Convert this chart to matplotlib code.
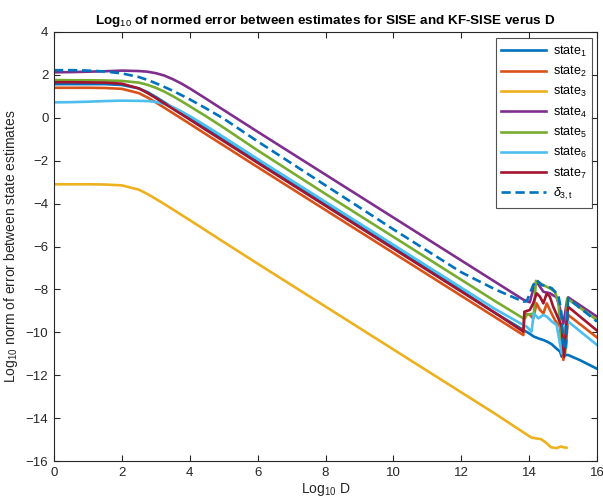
import matplotlib
matplotlib.use("Agg")
import matplotlib.pyplot as plt

plt.rcParams['font.family'] = ['Liberation Sans', 'DejaVu Sans']
plt.rcParams['mathtext.fontset'] = 'custom'
plt.rcParams['mathtext.rm'] = 'Liberation Sans'
plt.rcParams['mathtext.it'] = 'Liberation Sans:italic'

# shared grid for the smooth part of the curves
x_smooth = [0, 0.5, 1, 1.5, 2, 2.5, 2.75, 3, 3.25, 3.5, 3.75, 4, 4.5, 5, 6, 8, 10, 12, 13]

state1_y = [1.57, 1.57, 1.57, 1.57, 1.53, 1.37, 1.2, 0.97, 0.72, 0.47, 0.22, -0.03, -0.53, -1.04, -2.05, -4.05, -6.05, -8.05, -9.1]
state1_xn = [13.83, 14.0, 14.14, 14.3, 14.42, 14.55, 14.66, 14.8, 14.91, 14.96, 15.06, 15.15, 15.5, 16.0]
state1_yn = [-9.89, -10.05, -10.2, -10.3, -10.36, -10.45, -10.55, -10.75, -10.9, -11.14, -11.06, -11.06, -11.3, -11.7]

state2_y = [1.4, 1.4, 1.4, 1.39, 1.35, 1.15, 0.95, 0.72, 0.47, 0.22, -0.03, -0.28, -0.79, -1.29, -2.3, -4.3, -6.3, -8.3, -9.3]
state2_xn = [13.83, 13.86, 14.02, 14.12, 14.22, 14.32, 14.42, 14.52, 14.61, 14.76, 14.91, 15.01, 15.09, 15.15, 16.0]
state2_yn = [-10.13, -9.12, -9.19, -9.35, -8.65, -8.96, -9.12, -8.65, -8.96, -9.43, -9.74, -11.29, -10.52, -9.19, -10.24]

state3_y = [-3.1, -3.1, -3.1, -3.11, -3.15, -3.35, -3.55, -3.78, -4.02, -4.27, -4.52, -4.77, -5.28, -5.79, -6.8, -8.8, -10.8, -12.8, -13.8]
state3_xn = [14.03, 14.1, 14.22, 14.35, 14.5, 14.6, 14.65, 14.8, 14.95, 15.0, 15.1]
state3_yn = [-14.87, -14.92, -14.95, -14.98, -15.15, -15.3, -15.36, -15.4, -15.32, -15.36, -15.38]

state4_y = [2.12, 2.13, 2.15, 2.17, 2.2, 2.18, 2.15, 2.08, 1.97, 1.8, 1.6, 1.37, 0.87, 0.36, -0.65, -2.65, -4.65, -6.65, -7.65]
state4_xn = [13.83, 14.02, 14.12, 14.22, 14.42, 14.61, 14.81, 14.91, 15.01, 15.11, 15.15, 16.0]
state4_yn = [-8.48, -8.6, -8.0, -7.64, -8.11, -8.18, -8.37, -8.9, -9.6, -8.6, -8.37, -9.27]

state5_y = [1.76, 1.75, 1.75, 1.74, 1.72, 1.64, 1.54, 1.4, 1.22, 1.01, 0.78, 0.54, 0.05, -0.46, -1.52, -3.55, -5.55, -7.55, -8.55]
state5_xn = [13.83, 13.88, 13.93, 14.14, 14.2, 14.42, 14.61, 14.76, 14.86, 14.96, 15.06, 15.12, 16.0]
state5_yn = [-9.35, -9.35, -9.19, -9.12, -7.6, -7.8, -7.95, -8.11, -8.57, -10.5, -10.98, -8.42, -9.43]

state6_y = [0.72, 0.73, 0.75, 0.78, 0.8, 0.79, 0.78, 0.74, 0.65, 0.5, 0.3, 0.08, -0.4, -0.9, -1.92, -3.92, -5.92, -7.92, -8.92]
state6_xn = [13.83, 13.93, 14.07, 14.14, 14.27, 14.42, 14.52, 14.67, 14.81, 14.96, 15.06, 15.15, 16.0]
state6_yn = [-9.66, -9.74, -9.97, -9.12, -9.35, -9.19, -9.27, -9.5, -9.66, -10.98, -9.74, -9.5, -10.59]

state7_y = [1.66, 1.66, 1.65, 1.64, 1.59, 1.37, 1.16, 0.92, 0.67, 0.42, 0.17, -0.08, -0.59, -1.09, -2.1, -4.1, -6.1, -8.1, -9.1]
state7_xn = [13.83, 13.86, 14.02, 14.12, 14.22, 14.32, 14.42, 14.52, 14.61, 14.71, 14.86, 14.96, 15.03, 15.09, 15.15, 16.0]
state7_yn = [-9.97, -9.04, -8.96, -8.65, -8.18, -8.34, -8.65, -8.18, -8.34, -8.81, -9.35, -9.74, -11.14, -9.74, -8.81, -9.92]

delta_y = [2.22, 2.22, 2.2, 2.16, 2.07, 1.9, 1.77, 1.61, 1.44, 1.26, 1.06, 0.86, 0.42, -0.04, -1.1, -3.15, -5.2, -7.2, -8.0]
delta_xn = [13.83, 13.93, 14.02, 14.12, 14.22, 14.37, 14.52, 14.67, 14.76, 14.86, 14.94, 15.01, 15.08, 15.15, 16.0]
delta_yn = [-8.57, -8.55, -8.2, -7.8, -7.56, -7.80, -7.84, -7.95, -8.11, -8.25, -8.96, -10.52, -10.83, -8.42, -9.5]

labels = ['state$_1$', 'state$_2$', 'state$_3$', 'state$_4$', 'state$_5$', 'state$_6$', 'state$_7$',
          r'$\delta_{\mathrm{3,t}}$']
colors = ['#0072BD', '#D95319', '#EDB120', '#7E2F8E', '#77AC30', '#4DBEEE', '#A2142F', '#0072BD']

series = [
    (state1_y, state1_xn, state1_yn),
    (state2_y, state2_xn, state2_yn),
    (state3_y, state3_xn, state3_yn),
    (state4_y, state4_xn, state4_yn),
    (state5_y, state5_xn, state5_yn),
    (state6_y, state6_xn, state6_yn),
    (state7_y, state7_xn, state7_yn),
    (delta_y, delta_xn, delta_yn),
]

fig = plt.figure(figsize=(6.03, 4.99), dpi=100)
ax = fig.add_axes([54/603, 1-461/499, (597-54)/603, (461-32)/499])

for i, (ys, xn, yn) in enumerate(series):
    xs = list(x_smooth) + list(xn)
    yy = list(ys) + list(yn)
    ls = (0, (3.5, 1.8)) if i == 7 else '-'
    ax.plot(xs, yy, color=colors[i], lw=1.9, linestyle=ls, label=labels[i],
            solid_joinstyle='round')

ax.set_xlim(0, 16)
ax.set_ylim(-16, 4)
ax.set_xticks(range(0, 17, 2))
ax.set_yticks(range(-16, 5, 2))
ax.tick_params(direction='in', top=True, right=True, length=4, width=0.8,
               labelsize=9.5, colors='#262626', pad=4)
for s in ax.spines.values():
    s.set_linewidth(0.8)
    s.set_color('#262626')

ax.set_title('Log$_{10}$ of normed error between estimates for SISE and KF-SISE verus D',
             fontsize=9.7, fontweight='bold', pad=6)
ax.set_xlabel('Log$_{10}$ D', fontsize=10, labelpad=2, color='#262626')
ax.set_ylabel('Log$_{10}$ norm of error between state estimates', fontsize=10, labelpad=4, color='#262626')

leg = ax.legend(loc='upper right', fontsize=9, frameon=True, fancybox=False,
                edgecolor='#262626', handlelength=3.6, borderpad=0.45,
                labelspacing=0.42, handletextpad=0.5, borderaxespad=0,
                bbox_to_anchor=(0.991, 0.986))
leg.get_frame().set_linewidth(0.8)

fig.savefig('out.png', dpi=100)
